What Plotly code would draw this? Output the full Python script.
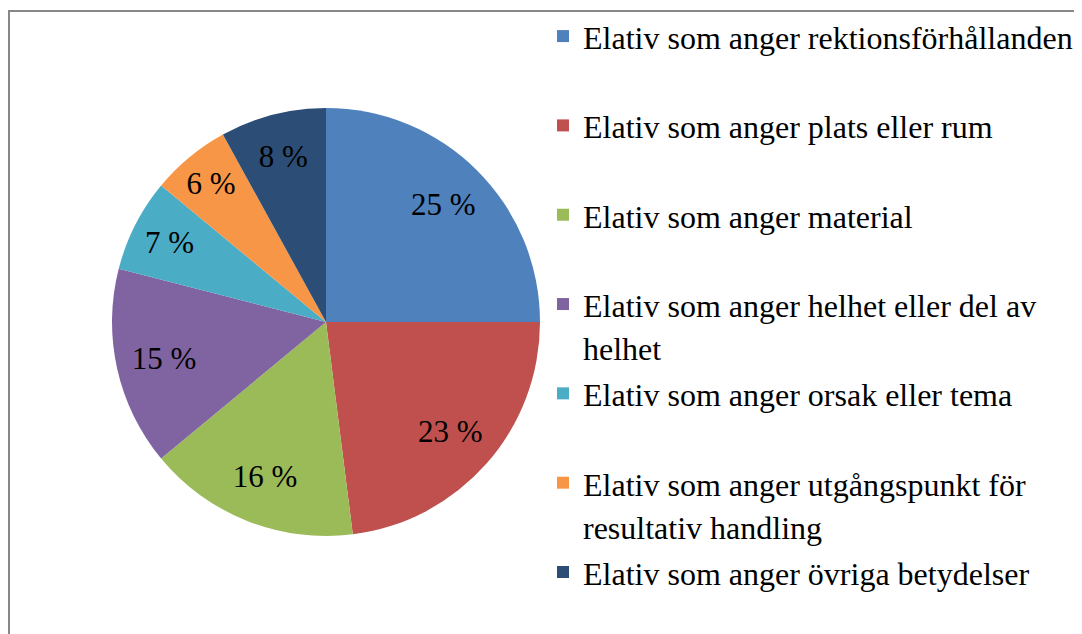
import plotly.graph_objects as go

categories = [
    "Elativ som anger rektionsförhållanden",
    "Elativ som anger plats eller rum",
    "Elativ som anger material",
    "Elativ som anger helhet eller del av<br>helhet",
    "Elativ som anger orsak eller tema",
    "Elativ som anger utgångspunkt för<br>resultativ handling",
    "Elativ som anger övriga betydelser",
]
values = [25, 23, 16, 15, 7, 6, 8]
colors = ["#4F81BD", "#C0504D", "#9BBB59", "#8064A2", "#4BACC6", "#F79646", "#2C4D75"]

FONT = "Liberation Serif, Times New Roman, serif"
W, H = 1082, 634
OFF = 8  # page body margin offset

# legend labels: each slot spans two lines (blank second line when text fits on one)
labels = []
for i, c in enumerate(categories):
    parts = c.split("<br>")
    if len(parts) == 1 and i < len(categories) - 1:
        parts.append(" ")
    labels.append("<br>".join(f"<span style='font-size:32px'>{p}</span>" for p in parts))

cx, cy, r = 326 - OFF, 322 - OFF, 214
dom = dict(x=[(cx - r) / W, (cx + r) / W], y=[(H - cy - r) / H, (H - cy + r) / H])

fig = go.Figure()
fig.add_trace(go.Pie(
    labels=labels, values=values, sort=False, direction="clockwise", rotation=0,
    marker=dict(colors=colors, line=dict(width=0)),
    textinfo="none", domain=dom, hoverinfo="skip",
))
# transparent ring on top that carries the percentage labels
fig.add_trace(go.Pie(
    labels=labels, values=values, sort=False, direction="clockwise", rotation=0,
    marker=dict(colors=["rgba(0,0,0,0)"] * len(values), line=dict(width=0)),
    hole=0.55, showlegend=False,
    texttemplate="%{value} %", textposition="inside", insidetextorientation="horizontal",
    textfont=dict(family=FONT, size=31, color="black"),
    domain=dom, hoverinfo="skip",
))

fig.update_layout(
    width=W, height=H,
    margin=dict(l=0, r=0, t=0, b=0, autoexpand=False),
    paper_bgcolor="white",
    plot_bgcolor="white",
    showlegend=True,
    uniformtext=dict(minsize=31, mode="show"),
    legend=dict(
        x=(583 - OFF - 40) / W, xanchor="left",
        y=1.0, yanchor="top",
        font=dict(family=FONT, size=33.2, color="black"),
        valign="top",
        bgcolor="rgba(0,0,0,0)",
        borderwidth=0,
    ),
    shapes=[dict(
        type="rect", xref="paper", yref="paper",
        x0=(9 - OFF) / W, x1=1.05, y0=-0.05, y1=1 - (11 - OFF) / H,
        line=dict(color="#878787", width=2), fillcolor="rgba(0,0,0,0)", layer="below",
    )],
)

fig.write_html("out.html")
